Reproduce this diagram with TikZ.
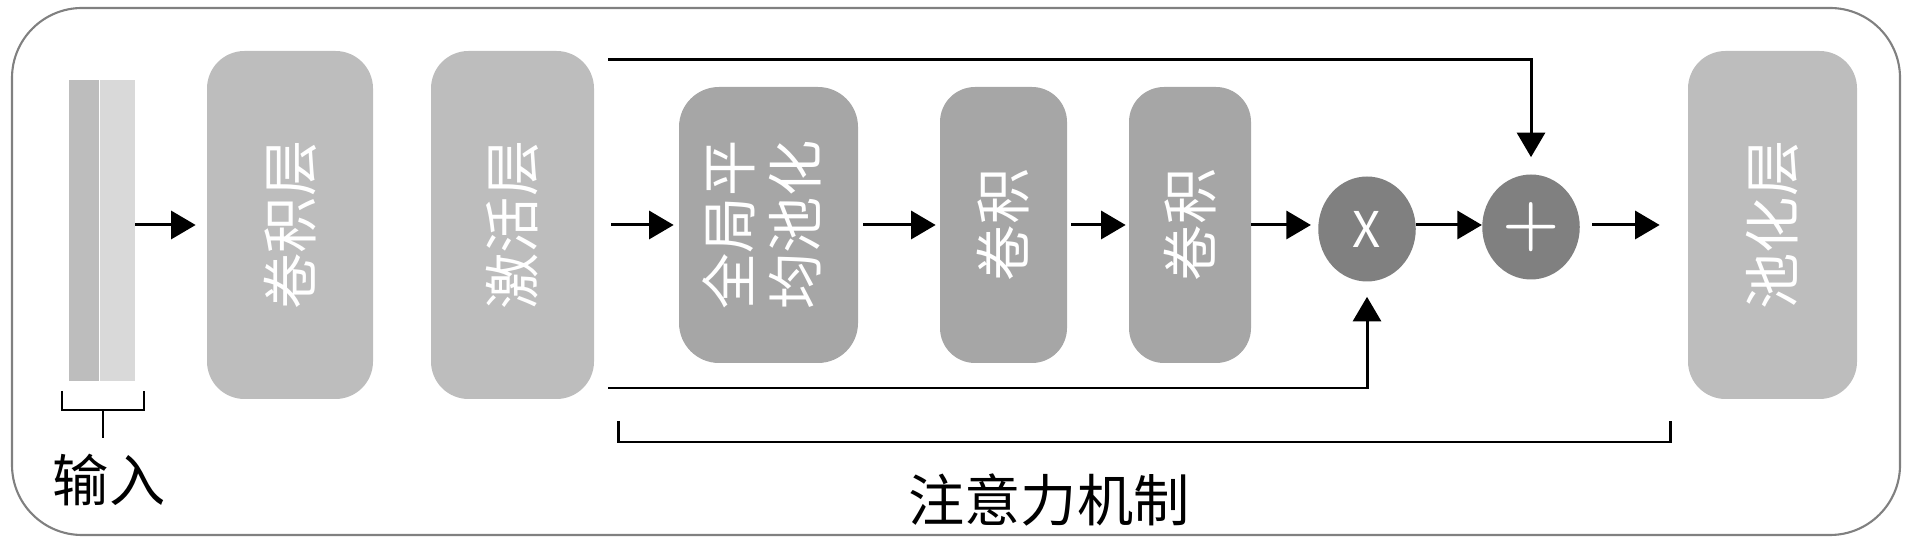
\documentclass[tikz,border=0pt]{standalone}
\usepackage{fontspec}
\usepackage{graphicx}
\setmainfont{Noto Sans CJK SC}
\usetikzlibrary{arrows.meta,shapes.geometric}

\definecolor{layergray}{HTML}{BDBDBD}
\definecolor{attgray}{HTML}{A6A6A6}
\definecolor{opgray}{HTML}{808080}
\definecolor{barlight}{HTML}{D9D9D9}

\tikzset{
	layer/.style={shape=rectangle, rounded corners=0.75cm, fill=layergray, text=white,
		minimum width=3.3cm, minimum height=6.96cm, inner sep=0pt,
		font=\fontsize{32}{34}\selectfont},
	attbox/.style={layer, fill=attgray, rounded corners=0.8cm, minimum height=5.52cm},
	op/.style={shape=ellipse, fill=opgray, text=white, inner sep=0pt,
		minimum width=1.95cm, minimum height=2.1cm, font=\fontsize{28}{28}\selectfont},
	bar/.style={shape=rectangle, inner sep=0pt, minimum height=6.02cm},
	flow/.style={-{Triangle[length=14pt,width=16pt]}, line width=1.7pt},
	brack/.style={-, line width=1.7pt},
	frame/.style={draw=opgray, line width=1.2pt, rounded corners=1.4cm},
	caption/.style={font=\fontsize{32}{34}\selectfont, inner sep=0pt},
}

\begin{document}
\begin{tikzpicture}
	\useasboundingbox (0,0) rectangle (38.26,10.86);
	\draw[frame] (0.24,0.16) rectangle (38.0,10.7);

	\node[bar, fill=layergray, minimum width=0.6cm] (inA) at (1.68, 6.25) {};
	\node[bar, fill=barlight, minimum width=0.7cm] (inB) at (2.35, 6.25) {};
	\node[layer, minimum width=3.32cm] (conv) at (5.80, 6.36) {\rotatebox{90}{卷积层}};
	\node[layer, minimum width=3.26cm] (act) at (10.25, 6.36) {\rotatebox{90}{激活层}};
	\node[attbox, minimum width=3.58cm] (gap) at (15.37, 6.36)
		{\rotatebox{90}{\begin{tabular}{@{}c@{}}全局平\\均池化\end{tabular}}};
	\node[attbox, minimum width=2.54cm, rounded corners=0.7cm] (convA) at (20.07, 6.36) {\rotatebox{90}{卷积}};
	\node[attbox, minimum width=2.44cm, rounded corners=0.7cm] (convB) at (23.80, 6.36) {\rotatebox{90}{卷积}};
	\node[op] (mul) at (27.34, 6.28) {X};
	\node[op] (add) at (30.62, 6.32) {\scalebox{1.5}{\boldmath$+$}};
	\node[layer, minimum width=3.38cm] (pool) at (35.45, 6.36) {\rotatebox{90}{池化层}};

	\coordinate (skipT) at (12.16, 9.66);
	\coordinate (skipB) at (12.16, 3.10);

	\path[flow] (inB.east |- conv.west) edge[shorten >=0.22cm] (conv.west);
	\path[flow] (act) edge[shorten <=0.34cm, shorten >=0.1cm] (gap);
	\path[flow] (gap) edge[shorten <=0.1cm, shorten >=0.08cm] (convA);
	\path[flow] (convA) edge[shorten <=0.08cm, shorten >=0.06cm] (convB);
	\path[flow] (convB) edge[shorten >=0.14cm] (mul.west |- convB.east);
	\path[flow] (mul.east |- convB.east) edge (add.west |- convB.east);
	\path[flow] (add.east |- pool.west) edge[shorten <=0.24cm, shorten >=0.56cm] (pool.west);
	\draw[flow, shorten >=0.34cm] (skipT) -| (add.north);
	\draw[flow, shorten >=0.3cm] (skipB) -| (mul.south);

	% input bracket
	\coordinate (inL) at (1.24, 3.04);
	\coordinate (inBL) at (1.24, 2.66);
	\coordinate (inR) at (2.88, 3.04);
	\coordinate (inStem) at (2.06, 2.66);
	\coordinate (inStemEnd) at (2.06, 2.10);
	\draw[brack] (inL) -- (inBL) -| (inR);
	\draw[brack] (inStem) -- (inStemEnd);
	\node[caption] (inlabel) at (2.18, 1.26) {输入};

	% attention bracket
	\coordinate (attL) at (12.36, 2.44);
	\coordinate (attBL) at (12.36, 2.02);
	\coordinate (attR) at (33.40, 2.44);
	\draw[brack] (attL) -- (attBL) -| (attR);
	\node[caption] (attlabel) at (20.98, 0.86) {注意力机制};

\end{tikzpicture}
\end{document}
